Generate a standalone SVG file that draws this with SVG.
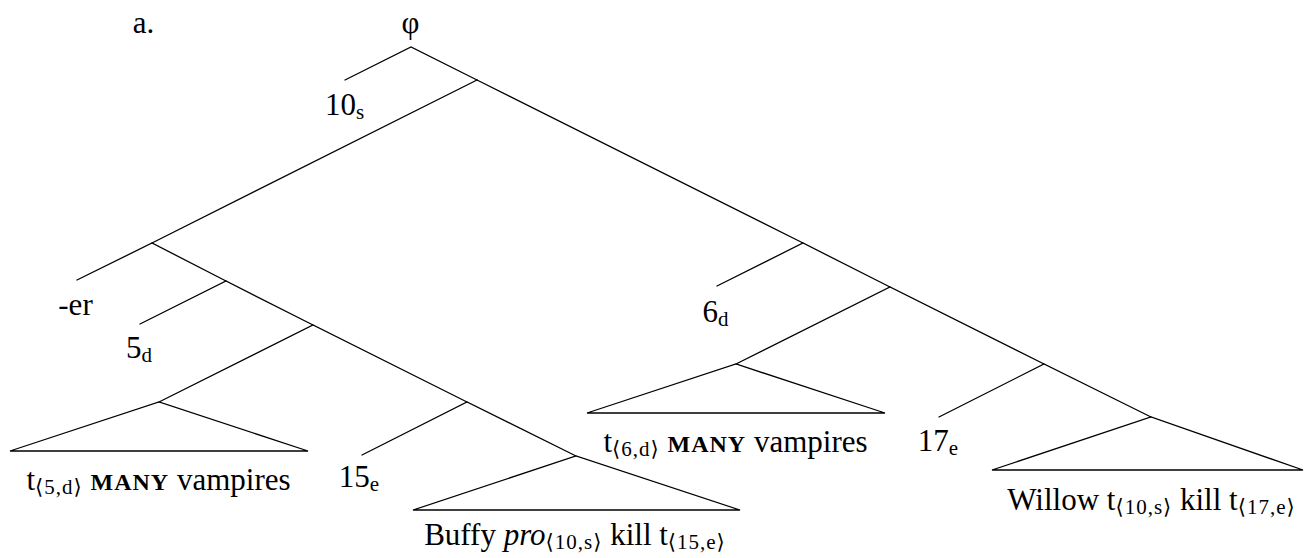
<svg xmlns="http://www.w3.org/2000/svg" width="1304" height="558" viewBox="0 0 1304 558">
<style>
.e{stroke:#000;stroke-width:1.3;fill:none;stroke-linecap:round}
text{font-family:"Liberation Serif","DejaVu Serif",serif;font-size:31px;fill:#000;text-anchor:middle}
.s{font-size:21px;letter-spacing:1px}
.sc{font-size:24px;font-weight:bold;letter-spacing:1px}
</style>
<rect width="1304" height="558" fill="#fff"/>
<g id="connectors" class="e">
<path d="M345,80 L411,47 L477,80"/>
<path d="M477,80 L152,243"/>
<path d="M477,80 L803,243"/>
<path d="M77,280 L152,243 L226,281"/>
<path d="M140,324 L226,281 L313,325"/>
<path d="M159,402 L313,325 L467,402"/>
<path d="M10,451 L159,402 L308,451 Z"/>
<path d="M362,455 L467,402 L576,456"/>
<path d="M413,510 L576,456 L740,510 Z"/>
<path d="M717,286 L803,243 L890,287"/>
<path d="M736,364 L890,287 L1044,364"/>
<path d="M587,413 L736,364 L885,413 Z"/>
<path d="M939,417 L1044,364 L1151,417"/>
<path d="M992,470 L1151,417 L1303,470 Z"/>
</g>
<g id="label-a"><text x="143.5" y="33">a.</text></g>
<g id="node-root"><text x="410.5" y="33">φ</text></g>
<g id="node-10s"><text x="345" y="115">10<tspan class="s" dy="4">s</tspan></text></g>
<g id="node-er"><text x="75.5" y="315">-er</text></g>
<g id="node-5d"><text x="139.5" y="358">5<tspan class="s" dy="4">d</tspan></text></g>
<g id="node-t5d"><text x="158.5" y="490">t<tspan class="s" dy="4">⟨5,d⟩</tspan><tspan dy="-4"> </tspan><tspan class="sc">MANY</tspan> vampires</text></g>
<g id="node-15e"><text x="359.5" y="487">15<tspan class="s" dy="4">e</tspan></text></g>
<g id="node-buffy"><text x="575" y="545">Buffy <tspan font-style="italic">pro</tspan><tspan class="s" dy="4">⟨10,s⟩</tspan><tspan dy="-4"> kill t</tspan><tspan class="s" dy="4">⟨15,e⟩</tspan></text></g>
<g id="node-6d"><text x="716" y="322">6<tspan class="s" dy="4">d</tspan></text></g>
<g id="node-t6d"><text x="735.5" y="452">t<tspan class="s" dy="4">⟨6,d⟩</tspan><tspan dy="-4"> </tspan><tspan class="sc">MANY</tspan> vampires</text></g>
<g id="node-17e"><text x="938.5" y="451">17<tspan class="s" dy="4">e</tspan></text></g>
<g id="node-willow"><text x="1151.5" y="510">Willow t<tspan class="s" dy="4">⟨10,s⟩</tspan><tspan dy="-4"> kill t</tspan><tspan class="s" dy="4">⟨17,e⟩</tspan></text></g>
</svg>
